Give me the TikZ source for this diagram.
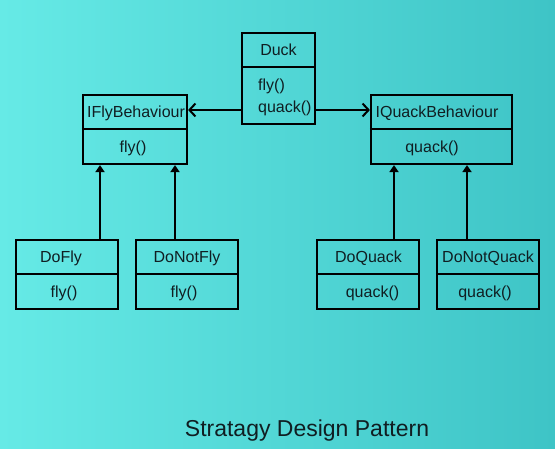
\documentclass[tikz,border=0pt]{standalone}
\usepackage{fontspec}
\setmainfont{Liberation Sans}
\usetikzlibrary{arrows.meta}
\definecolor{bgleft}{RGB}{102,234,230}
\definecolor{bgright}{RGB}{62,196,198}
\definecolor{ink}{RGB}{16,30,34}
\tikzset{
  classbox/.style={draw=black, line width=2.2bp, inner sep=0pt},
  divider/.style={draw=black, line width=2.2bp},
  lbl/.style={inner sep=0pt, anchor=base, text=ink, font=\fontsize{16bp}{19bp}\selectfont},
  assoc/.style={draw=black, line width=2bp, -{Straight Barb[length=6bp,width=13bp]}},
  inherit/.style={draw=black, line width=2bp, -{Triangle[length=7bp,width=9bp]}},
  title/.style={inner sep=0pt, anchor=base, text=ink, font=\fontsize{23bp}{27bp}\selectfont}
}
\begin{document}
\begin{tikzpicture}[x=1bp,y=-1bp]
\shade[left color=bgleft, right color=bgright] (0,0) rectangle (555,449);
\useasboundingbox (0,0) rectangle (555,449);

% Duck
\node[classbox, minimum width=73bp, minimum height=91bp] (duck) at (278.5,78.5) {};
\draw[divider] (duck.west |- 0,67) -- (duck.east |- 0,67);
\node[lbl] (duckname) at (278.5,55.5) {Duck};
\node[lbl, anchor=base west] (duckfly) at (258,91) {fly()};
\node[lbl, anchor=base west] (duckquack) at (258,113) {quack()};

% IFlyBehaviour
\node[classbox, minimum width=104bp, minimum height=69bp] (ifly) at (135,129.5) {};
\draw[divider] (ifly.west |- 0,129) -- (ifly.east |- 0,129);
\node[lbl] (iflyname) at (136,117.5) {IFlyBehaviour};
\node[lbl] (iflyfly) at (133,152.5) {fly()};

% IQuackBehaviour
\node[classbox, minimum width=141bp, minimum height=69bp] (iquack) at (441.5,129.5) {};
\draw[divider] (iquack.west |- 0,129) -- (iquack.east |- 0,129);
\node[lbl] (iquackname) at (437,117.5) {IQuackBehaviour};
\node[lbl] (iquackquack) at (432,152.5) {quack()};

% DoFly
\node[classbox, minimum width=102bp, minimum height=69bp] (dofly) at (67,274.5) {};
\draw[divider] (dofly.west |- 0,274) -- (dofly.east |- 0,274);
\node[lbl] (doflyname) at (61,262.5) {DoFly};
\node[lbl] (doflyfly) at (64,297.5) {fly()};

% DoNotFly
\node[classbox, minimum width=102bp, minimum height=69bp] (donotfly) at (187,274.5) {};
\draw[divider] (donotfly.west |- 0,274) -- (donotfly.east |- 0,274);
\node[lbl] (donotflyname) at (187,262.5) {DoNotFly};
\node[lbl] (donotflyfly) at (184,297.5) {fly()};

% DoQuack
\node[classbox, minimum width=102bp, minimum height=69bp] (doquack) at (368,274.5) {};
\draw[divider] (doquack.west |- 0,274) -- (doquack.east |- 0,274);
\node[lbl] (doquackname) at (368.5,262.5) {DoQuack};
\node[lbl] (doquackquack) at (372.5,297.5) {quack()};

% DoNotQuack
\node[classbox, minimum width=102bp, minimum height=69bp] (donotquack) at (488,274.5) {};
\draw[divider] (donotquack.west |- 0,274) -- (donotquack.east |- 0,274);
\node[lbl] (donotquackname) at (488,262.5) {DoNotQuack};
\node[lbl] (donotquackquack) at (485,297.5) {quack()};

% Associations
\draw[assoc] ([yshift=-31.5bp]duck.west) -- ([yshift=-31.5bp]duck.west -| ifly.east);
\draw[assoc] ([yshift=-31.5bp]duck.east) -- ([yshift=-31.5bp]duck.east -| iquack.west);

% Inheritance
\draw[inherit] ([xshift=33bp]dofly.north) -- ([xshift=33bp]dofly.north |- ifly.south);
\draw[inherit] ([xshift=-12bp]donotfly.north) -- ([xshift=-12bp]donotfly.north |- ifly.south);
\draw[inherit] ([xshift=26bp]doquack.north) -- ([xshift=26bp]doquack.north |- iquack.south);
\draw[inherit] ([xshift=-21bp]donotquack.north) -- ([xshift=-21bp]donotquack.north |- iquack.south);

% Title
\node[title] (caption) at (307,436) {Stratagy Design Pattern};
\end{tikzpicture}
\end{document}
